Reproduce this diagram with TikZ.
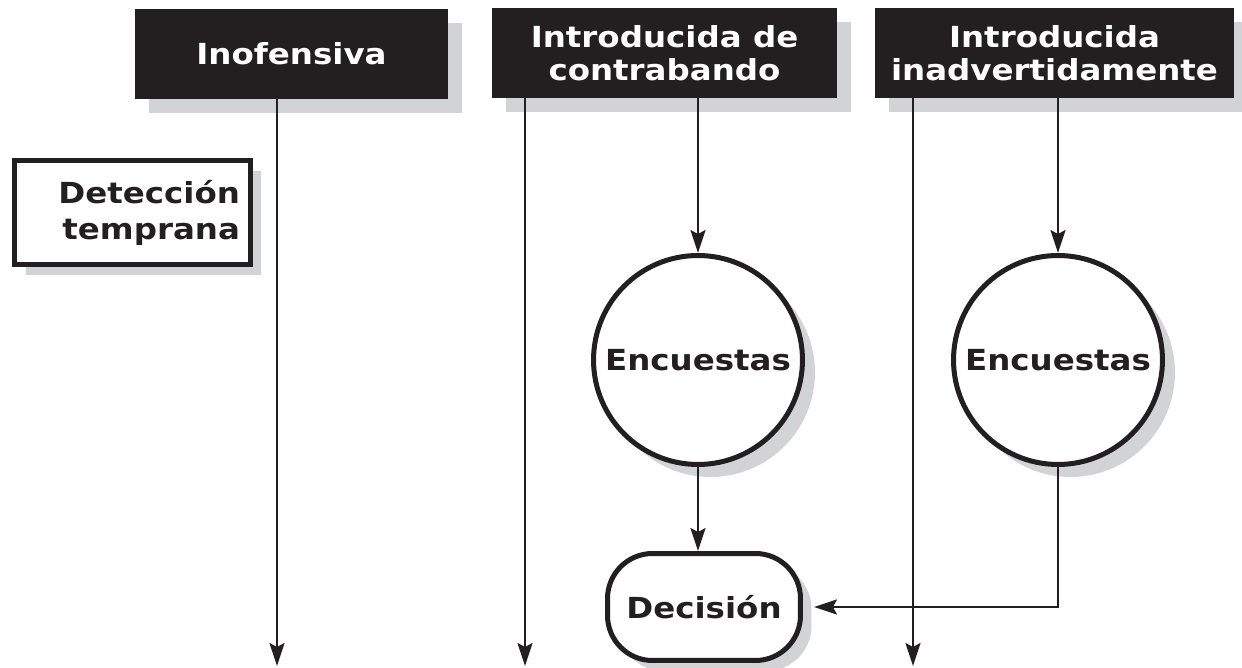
\documentclass[tikz,border=0pt]{standalone}
\usepackage{fontspec}
\setmainfont{DejaVu Sans}[FakeStretch=1.12]
\usetikzlibrary{arrows.meta,shadows}
\definecolor{ink}{HTML}{231F20}
\definecolor{shade}{HTML}{D1D3D4}
\tikzset{
  headbox/.style={fill=ink, text=white, align=center, minimum height=1.8cm,
    inner sep=0pt, font=\fontsize{16.5}{19}\selectfont\bfseries,
    drop shadow={shadow xshift=0.28cm, shadow yshift=-0.28cm, fill=shade, opacity=1}},
  stagebox/.style={draw=ink, line width=0.1cm, fill=white, text=ink,
    font=\fontsize{16.5}{20.5}\selectfont\bfseries,
    drop shadow={shadow xshift=0.22cm, shadow yshift=-0.21cm, fill=shade, opacity=1}},
  flow/.style={draw=ink, line width=0.04cm,
    -{Stealth[length=0.46cm, width=0.3cm, inset=0.08cm]}}
}
\begin{document}
\begin{tikzpicture}[x=0.02cm, y=-0.02cm]
  \useasboundingbox (0,0) rectangle (1242,668);
  \node[headbox, minimum width=6.26cm] (inof) at (291.5,54) {Inofensiva};
  \node[headbox, minimum width=6.9cm] (contra) at (664.5,53) {Introducida de\\contrabando};
  \node[headbox, minimum width=7.18cm] (inadv) at (1054.5,53) {Introducida\\inadvertidamente};
  \node[stagebox, minimum width=4.72cm, minimum height=2.08cm, text width=4.3cm,
    align=right, inner xsep=0.18cm] (deteccion) at (132.5,212.5) {Detección\\temprana};
  \node[stagebox, circle, minimum size=4.18cm, inner sep=0pt,
    drop shadow={shadow xshift=0.25cm, shadow yshift=-0.25cm, fill=shade, opacity=1}]
    (encA) at (698,360) {Encuestas};
  \node[stagebox, circle, minimum size=4.18cm, inner sep=0pt,
    drop shadow={shadow xshift=0.25cm, shadow yshift=-0.25cm, fill=shade, opacity=1}]
    (encB) at (1058,360) {Encuestas};
  \node[stagebox, rounded corners=0.9cm, minimum width=3.86cm, minimum height=2.14cm]
    (decision) at (704,607) {Decisión};
  \coordinate (endA) at (277,666);
  \coordinate (endB) at (525,666);
  \coordinate (endC) at (913,666);
  \begin{scope}[flow]
    \draw (inof.south -| endA) to (endA);
    \draw (contra.south -| endB) to (endB);
    \draw (inadv.south -| endC) to (endC);
    \draw (contra.south -| encA.north) to (encA.north);
    \draw (inadv.south -| encB.north) to (encB.north);
    \draw (encA.south) to (encA.south |- decision.north);
    \draw[shorten >=0.22cm] (encB.south) |- (decision.east);
  \end{scope}
\end{tikzpicture}
\end{document}
